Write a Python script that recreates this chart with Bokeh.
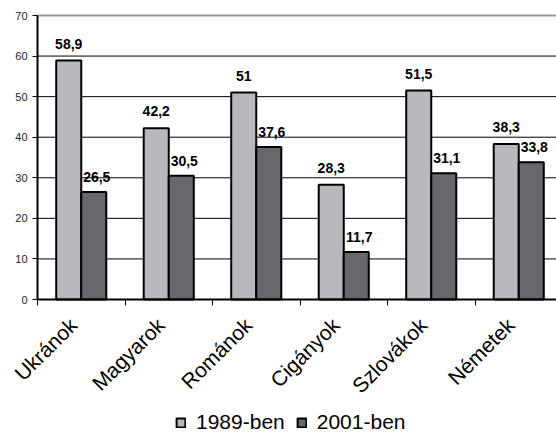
import math
from bokeh.plotting import figure
from bokeh.models import (ColumnDataSource, Range1d, FixedTicker, Legend, LegendItem)
from bokeh.transform import dodge
from bokeh.core.properties import value
from bokeh.embed import file_html
from bokeh.resources import INLINE

categories = ["Ukránok", "Magyarok", "Románok", "Cigányok", "Szlovákok", "Németek"]
values_1989 = [58.9, 42.2, 51, 28.3, 51.5, 38.3]
values_2001 = [26.5, 30.5, 37.6, 11.7, 31.1, 33.8]
series_names = ["1989-ben", "2001-ben"]
y_ticks = [0, 10, 20, 30, 40, 50, 60, 70]
y_tick_labels = [str(t) for t in y_ticks]

FONT = "Liberation Sans"
C1989 = "#b9b9bd"
C2001 = "#69676c"

def fmt(v):
    return f"{v:g}".replace(".", ",")

centers = [i + 0.5 for i in range(len(categories))]
bounds = [float(i) for i in range(len(categories) + 1)]
label_shift = 0.09  # rotated labels end slightly left of category centre
label_pos = [c - label_shift for c in centers]

src = ColumnDataSource(dict(
    x=centers,
    v1=values_1989, v2=values_2001,
    l1=[fmt(v) for v in values_1989], l2=[fmt(v) for v in values_2001],
))
ysrc = ColumnDataSource(dict(y=y_ticks, t=y_tick_labels))

# layout: plot area 37..556 x 15..299 ; frame covers the whole window
panel_left = 5
axis_px = 37
cat_px = 87.5
frame_w = 556 - panel_left
ppu = 284 / 70
x_start = -(axis_px - panel_left) / cat_px
x_end = x_start + frame_w / cat_px
y_end = 70 + 15 / ppu
y_start = -(434 - 299) / ppu

p = figure(frame_width=frame_w, frame_height=434, output_backend="svg",
           toolbar_location=None,
           x_range=Range1d(x_start, x_end), y_range=Range1d(y_start, y_end),
           min_border_left=panel_left, min_border_right=0, min_border_top=0,
           min_border_bottom=0)
p.outline_line_color = None
p.xgrid.visible = False
p.ygrid.visible = False

# gridlines and top border as segments from the axis to the right edge
grid_y = y_ticks[1:-1]
p.segment(x0=[0] * len(grid_y), x1=[x_end] * len(grid_y), y0=grid_y, y1=grid_y,
          line_color="black", line_width=1)
p.segment(x0=[0], x1=[x_end], y0=y_ticks[-1:], y1=y_ticks[-1:],
          line_color="#999999", line_width=2)

bw = 0.286
r1 = p.vbar(x=dodge("x", -bw / 2, range=p.x_range), top="v1", width=bw, source=src,
            fill_color=C1989, line_color="black", line_width=2)
r2 = p.vbar(x=dodge("x", bw / 2, range=p.x_range), top="v2", width=bw, source=src,
            fill_color=C2001, line_color="black", line_width=2)

p.text(x=dodge("x", -bw / 2, range=p.x_range), y="v1", text="l1", source=src,
       text_font=value(FONT), text_font_style="bold", text_font_size="14px",
       text_align="center", text_baseline="bottom", y_offset=-12, text_color="black")
p.text(x=dodge("x", bw / 2, range=p.x_range), y="v2", text="l2", source=src,
       text_font=value(FONT), text_font_style="bold", text_font_size="14px",
       text_align="center", text_baseline="bottom", y_offset=-10, x_offset=3,
       text_color="black")

# y tick labels
p.text(x=0, y="y", text="t", source=ysrc, x_offset=-10,
       text_font=value(FONT), text_font_size="11px", text_color="#222222",
       text_align="right", text_baseline="middle")

# y axis at x = 0 (its own labels are written by the text glyph above)
ya = p.yaxis[0]
ya.fixed_location = 0
ya.ticker = FixedTicker(ticks=y_ticks)
ya.bounds = (0, 70)
ya.axis_line_color = "black"
ya.axis_line_width = 2
ya.major_tick_out = 5
ya.major_tick_in = 0
ya.minor_tick_line_color = None
ya.major_label_overrides = {t: "" for t in y_ticks}
ya.major_label_text_font_size = "11px"
ya.major_label_standoff = 0

# x axis at y = 0
xa = p.xaxis[0]
xa.fixed_location = 0
xa.bounds = (0, x_end)
xa.ticker = FixedTicker(ticks=label_pos, minor_ticks=bounds)
xa.major_label_overrides = {c: n for c, n in zip(label_pos, categories)}
xa.major_label_orientation = math.pi / 4
xa.axis_line_color = "black"
xa.axis_line_width = 2
xa.major_tick_line_color = None
xa.major_tick_out = 0
xa.major_tick_in = 0
xa.minor_tick_line_color = "black"
xa.minor_tick_line_width = 1
xa.minor_tick_out = 6
xa.minor_tick_in = 0
xa.major_label_text_font = FONT
xa.major_label_text_font_size = "21px"
xa.major_label_text_color = "black"
xa.major_label_standoff = 16

legend = Legend(items=[LegendItem(label=series_names[0], renderers=[r1]),
                       LegendItem(label=series_names[1], renderers=[r2])],
                orientation="horizontal", location=(175 - panel_left, 0))
legend.label_text_font = FONT
legend.label_text_font_size = "21px"
legend.label_text_color = "black"
legend.glyph_width = 11
legend.glyph_height = 11
legend.label_standoff = 10
legend.spacing = 11
legend.border_line_color = None
legend.background_fill_alpha = 0
legend.padding = 0
legend.margin = 0
p.add_layout(legend, "center")

open("out.html", "w").write(file_html(p, INLINE))
